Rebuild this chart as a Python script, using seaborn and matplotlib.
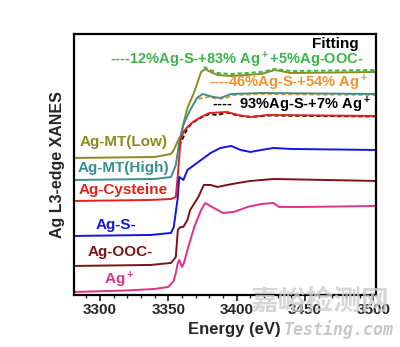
import matplotlib
matplotlib.use("Agg")
import matplotlib.pyplot as plt
import seaborn as sns
import pandas as pd

sns.set_theme(style="white")
plt.rcParams["font.family"] = ["Liberation Sans", "Noto Sans CJK SC", "DejaVu Sans"]
plt.rcParams["font.weight"] = "bold"
plt.rcParams["mathtext.fontset"] = "custom"
plt.rcParams["mathtext.rm"] = "Liberation Sans:bold"
plt.rcParams["mathtext.bf"] = "Liberation Sans:bold"
plt.rcParams["mathtext.default"] = "bf"

# Stacked Ag L3-edge XANES spectra (offset, arbitrary units)
ag_plus_e = [3281, 3320, 3340, 3350, 3354, 3355.5, 3357, 3358, 3360, 3361.5, 3364, 3369, 3374,
             3377, 3382, 3390, 3398, 3408, 3418, 3427, 3431, 3447, 3503]
ag_plus_y = [0.3, 0.45, 0.6, 0.8, 1.4, 2.2, 3.2, 3.5, 2.8, 3.2, 4.5, 6.8, 8.5,
             9.2, 8.8, 8.2, 8.3, 8.8, 9.1, 9.2, 8.8, 8.8, 8.9]

ag_ooc_e = [3281, 3337, 3352, 3355.5, 3357, 3359, 3361, 3364, 3366, 3372, 3376, 3381, 3386,
            3393, 3401, 3410, 3427, 3503]
ag_ooc_y = [2.9, 3.0, 3.2, 3.8, 6.5, 6.8, 6.8, 7.5, 8.5, 9.8, 11.0, 11.0, 10.8,
            11.0, 11.2, 11.4, 11.6, 11.4]

ag_s_e = [3281, 3337, 3352, 3354, 3357, 3358, 3361, 3364, 3366, 3374, 3381, 3388, 3396,
          3403, 3410, 3418, 3427, 3440, 3503]
ag_s_y = [5.9, 6.0, 6.2, 6.8, 9.8, 11.8, 11.5, 12.5, 12.7, 13.5, 14.2, 14.7, 14.9,
          14.5, 14.3, 14.5, 14.7, 14.6, 14.5]

ag_cys_e = [3281, 3337, 3352, 3355.5, 3357, 3359, 3361, 3364, 3368, 3374, 3380, 3393, 3401,
            3410, 3423, 3503]
ag_cys_y = [9.4, 9.5, 9.6, 9.8, 12.0, 15.5, 16.3, 16.8, 17.3, 17.8, 18.2, 18.3, 18.0,
            17.8, 18.0, 17.9]

ag_mt_high_e = [3281, 3340, 3352, 3355.5, 3358, 3361, 3366, 3371, 3375, 3383, 3388, 3396,
                3418, 3503]
ag_mt_high_y = [11.5, 11.6, 11.8, 13.0, 15.3, 17.0, 18.5, 19.7, 20.1, 19.8, 19.7, 20.1,
                20.2, 20.1]

ag_mt_low_e = [3281, 3340, 3352, 3354, 3358, 3359, 3361, 3364, 3369, 3374, 3377, 3381, 3386,
               3396, 3418, 3428, 3440, 3503]
ag_mt_low_y = [13.7, 13.8, 14.1, 14.5, 15.7, 15.8, 17.1, 18.7, 20.3, 22.3, 22.6, 22.3, 22.0,
               21.9, 22.1, 22.5, 22.2, 22.3]

# Linear-combination fits
fit_low_e = [3376, 3381, 3386, 3396, 3418, 3428, 3440, 3503]
fit_low_y = [22.8, 22.5, 22.2, 22.1, 22.3, 22.6, 22.4, 22.5]
fit_high_e = [3372, 3375, 3380, 3386, 3392, 3398, 3418, 3503]
fit_high_y = [19.6, 19.7, 19.8, 19.6, 19.7, 20.0, 20.1, 20.0]
fit_cys_e = [3358, 3361, 3364, 3368, 3374, 3380, 3386, 3393, 3401, 3410, 3423, 3503]
fit_cys_y = [14.9, 15.8, 16.7, 17.25, 17.75, 18.1, 18.0, 18.25, 17.95, 17.8, 17.95, 17.85]

sample_names = ["Ag-MT(Low)", "Ag-MT(High)", "Ag-Cysteine", "Ag-S-", "Ag-OOC-", "Ag$^+$"]
sample_colors = ["#8c8c1e", "#3a8f8f", "#e0231c", "#1414e6", "#7a1414", "#e0308c"]
fit_labels = ["----12%Ag-S-+83% Ag$^+$+5%Ag-OOC-", "----46%Ag-S-+54% Ag$^+$",
              "----  93%Ag-S-+7% Ag$^+$"]
fit_colors = ["#3cb44a", "#f0922a", "#000000"]
fit_layers = [3, 1, 1]
x_ticks = [3300, 3350, 3400, 3450, 3500]

spectra = [(ag_mt_low_e, ag_mt_low_y), (ag_mt_high_e, ag_mt_high_y), (ag_cys_e, ag_cys_y),
           (ag_s_e, ag_s_y), (ag_ooc_e, ag_ooc_y), (ag_plus_e, ag_plus_y)]
fits = [(fit_low_e, fit_low_y), (fit_high_e, fit_high_y), (fit_cys_e, fit_cys_y)]

fig = plt.figure(figsize=(4.0, 3.47), dpi=100)
ax = fig.add_axes([0.185, 0.15, 0.755, 0.752])

for (e, y), name, color in zip(spectra, sample_names, sample_colors):
    df = pd.DataFrame({"energy": e, "mu": y})
    sns.lineplot(data=df, x="energy", y="mu", color=color, linewidth=1.4, ax=ax,
                 sort=False, zorder=2)

for (e, y), color, layer in zip(fits, fit_colors, fit_layers):
    df = pd.DataFrame({"energy": e, "mu": y})
    sns.lineplot(data=df, x="energy", y="mu", color=color, linewidth=1.4, ax=ax,
                 sort=False, zorder=layer, linestyle=(0, (2.2, 1.4)))

# Sample labels next to the baselines
label_pos = [(3317.5, 15.3), (3317.5, 12.7), (3317, 10.5), (3312, 7.0), (3314.6, 4.3), (3314, 1.5)]
for name, color, (lx, ly) in zip(sample_names, sample_colors, label_pos):
    ax.text(lx, ly, name, color=color, fontsize=11, fontweight="bold", ha="center", va="center")

ax.text(3489, 25.1, "Fitting", color="black", fontsize=11, fontweight="bold", ha="right", va="center")
fit_label_pos = [(3492.7, 23.5), (3496, 21.2), (3498, 19.0)]
for text, color, (lx, ly) in zip(fit_labels, fit_colors, fit_label_pos):
    ax.text(lx, ly, text, color=color, fontsize=10.5, fontweight="bold", ha="right", va="center")

ax.set_xlim(3281, 3502)
ax.set_ylim(0, 26.1)
ax.set_xticks(x_ticks)
ax.set_xticks(range(3290, 3501, 10), minor=True)
ax.set_yticks([])
ax.tick_params(axis="x", which="major", direction="out", length=4, width=1.3, bottom=True,
               labelsize=11, pad=2)
ax.tick_params(axis="x", which="minor", direction="out", length=2.5, width=1.0, bottom=True)
for lab in ax.get_xticklabels():
    lab.set_fontweight("bold")
for sp in ax.spines.values():
    sp.set_color("black")
    sp.set_linewidth(1.6)

ax.set_xlabel("Energy (eV)", fontsize=12, fontweight="bold")
ax.set_ylabel("Ag L3-edge XANES", fontsize=11.5, fontweight="bold")
ax.xaxis.set_label_coords(0.53, -0.105)
ax.yaxis.set_label_coords(-0.03, 0.5)

# Watermark
fig.text(0.625, 0.13, "嘉峪检测网", fontsize=20, color="#cccccc", alpha=0.8,
         family=["Noto Sans CJK SC"], ha="left", va="center", zorder=10)
fig.text(0.708, 0.05, "Testing.com", fontsize=12, color="#c8c8c8", style="italic",
         family=["DejaVu Sans Mono"], ha="left", va="center", zorder=10)

fig.savefig("out.png", dpi=100)
